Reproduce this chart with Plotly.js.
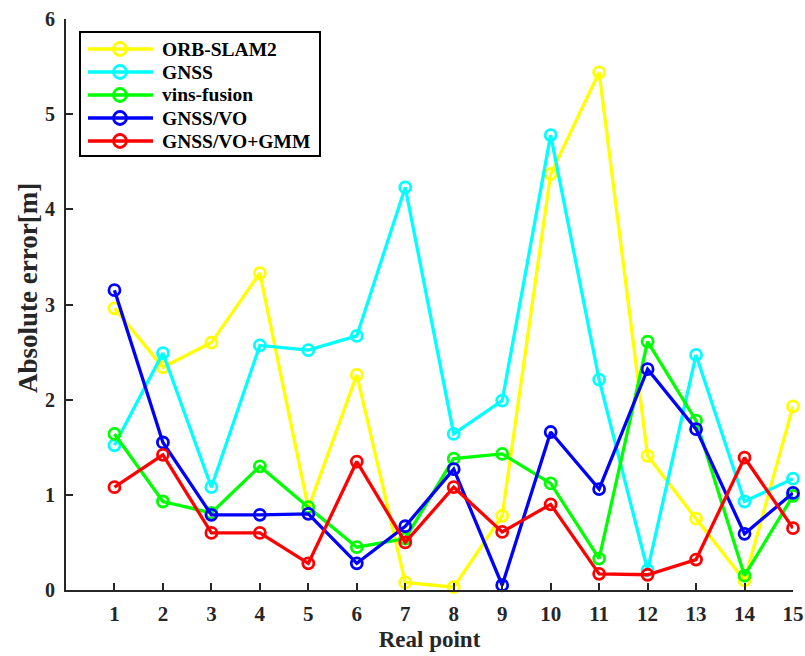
<!DOCTYPE html>
<html>
<head>
<meta charset="utf-8">
<script src="https://cdn.plot.ly/plotly-3.0.1.min.js"></script>
<style>html,body{margin:0;padding:0;background:#fff;}#chart{width:805px;height:656px;}</style>
</head>
<body>
<div id="chart"></div>
<script>
// ---- data ----
const realPoints = [1,2,3,4,5,6,7,8,9,10,11,12,13,14,15];
const seriesNames = ["ORB-SLAM2","GNSS","vins-fusion","GNSS/VO","GNSS/VO+GMM"];
const orbSlam2 = [2.96,2.34,2.60,3.33,0.86,2.26,0.08,0.03,0.78,4.37,5.44,1.41,0.75,0.10,1.93];
const gnss     = [1.52,2.49,1.08,2.57,2.52,2.67,4.23,1.64,1.99,4.78,2.21,0.21,2.47,0.93,1.17];
const vinsFusion = [1.64,0.93,0.81,1.30,0.87,0.45,0.54,1.38,1.43,1.12,0.33,2.61,1.78,0.15,0.99];
const gnssVo   = [3.15,1.55,0.79,0.79,0.80,0.28,0.67,1.27,0.05,1.66,1.06,2.32,1.69,0.59,1.02];
const gnssVoGmm = [1.08,1.42,0.60,0.60,0.28,1.35,0.50,1.08,0.61,0.90,0.17,0.16,0.32,1.39,0.65];
const yTicks = [0,1,2,3,4,5,6];

// ---- styles ----
const colors = ["#FFFF00","#00FFFF","#00FF00","#0000FF","#FF0000"];
const seriesData = [orbSlam2, gnss, vinsFusion, gnssVo, gnssVoGmm];
const FONT = "Liberation Serif, Times New Roman, serif";
const AX = "#262626";

const W = 805, H = 656;
const M = {l:66, r:12, t:19, b:66};
const pw = W - M.l - M.r, ph = H - M.t - M.b;
const px2x = p => (p - M.l) / pw;
const py2y = p => (H - M.b - p) / ph;

const traces = seriesData.map((ys, i) => ({
  x: realPoints, y: ys, type: 'scatter', mode: 'lines+markers',
  name: seriesNames[i], showlegend: false, cliponaxis: false,
  line: {color: colors[i], width: 3.3},
  marker: {symbol: 'circle-open', size: 11, color: colors[i], line: {width: 2.8, color: colors[i]}}
}));

// ---- manual legend (MATLAB style) ----
const shapes = [];
const annotations = [];
const lg = {x0: 80, x1: 320, y0: 32, y1: 156, row0: 49, step: 23, l0: 88, l1: 153, mk: 120, tx: 160};
shapes.push({type:'rect', xref:'paper', yref:'paper', x0:px2x(lg.x0), x1:px2x(lg.x1), y0:py2y(lg.y1), y1:py2y(lg.y0),
  line:{color:'#000', width:2}, fillcolor:'#fff', layer:'above'});
seriesNames.forEach((n, i) => {
  const py = lg.row0 + i * lg.step;
  shapes.push({type:'line', xref:'paper', yref:'paper', x0:px2x(lg.l0), x1:px2x(lg.l1), y0:py2y(py), y1:py2y(py),
    line:{color:colors[i], width:3.3}, layer:'above'});
  shapes.push({type:'circle', xref:'paper', yref:'paper', xsizemode:'pixel', ysizemode:'pixel',
    xanchor:px2x(lg.mk), yanchor:py2y(py), x0:-6.5, x1:6.5, y0:-6.5, y1:6.5,
    line:{color:colors[i], width:2.8}, fillcolor:'rgba(0,0,0,0)', layer:'above'});
  annotations.push({xref:'paper', yref:'paper', x:px2x(lg.tx), y:py2y(py), xanchor:'left', yanchor:'middle',
    text:n, showarrow:false, font:{family:FONT, size:19.5, color:'#000', weight:'bold'}});
});
annotations.push({xref:'paper', yref:'paper', x:px2x(28), y:py2y(288), xanchor:'center', yanchor:'middle',
  text:'Absolute error[m]', textangle:-90, showarrow:false, font:{family:FONT, size:27, color:AX, weight:'bold'}});

const layout = {
  width: W, height: H, margin: M,
  paper_bgcolor:'#fff', plot_bgcolor:'#fff',
  showlegend:false,
  font:{family:FONT, color:AX},
  xaxis:{range:[0,15], tickvals:realPoints, ticktext:realPoints.map(String),
    showgrid:false, zeroline:false, showline:true, linecolor:AX, linewidth:2, mirror:false,
    ticks:'inside', ticklen:7, tickwidth:2, tickcolor:AX, ticklabelstandoff:4,
    tickfont:{family:FONT, size:21, color:AX, weight:'bold'},
    title:{text:'Real point', standoff:6, font:{family:FONT, size:23, color:AX, weight:'bold'}}},
  yaxis:{range:[0,6], tickvals:yTicks, ticktext:yTicks.map(String),
    showgrid:false, zeroline:false, showline:true, linecolor:AX, linewidth:2, mirror:false,
    ticks:'inside', ticklen:7, tickwidth:2, tickcolor:AX, ticklabelstandoff:5,
    tickfont:{family:FONT, size:20, color:AX, weight:'bold'}},
  shapes: shapes,
  annotations: annotations
};

Plotly.newPlot('chart', traces, layout, {displayModeBar:false, staticPlot:true});
</script>
</body>
</html>
